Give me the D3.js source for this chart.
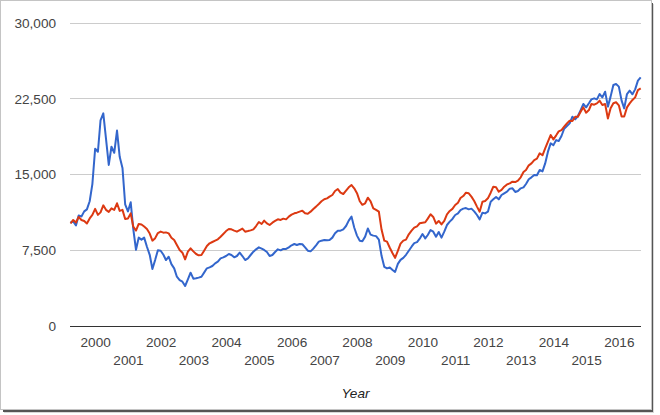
<!DOCTYPE html>
<html>
<head>
<meta charset="utf-8">
<script src="https://cdnjs.cloudflare.com/ajax/libs/d3/7.8.5/d3.min.js"></script>
<style>
  html, body { margin: 0; padding: 0; background: #fff; }
  svg { display: block; font-family: "Liberation Sans", Arial, sans-serif; }
  .tick text { fill: #444; font-size: 13.6px; }
</style>
</head>
<body>
<script>
const width = 660;
const height = 415;

// monthly closes, starting April 1999
const startMonth = new Date(1999, 3, 1);

const blueValues = [
  10200, 10300, 9900, 10900, 10800, 11300, 11500, 12300, 14000, 17500,
  17200, 20300, 21000, 18500, 15900, 17700, 17100, 19300, 16700, 15600,
  12000, 11300, 12200, 9600, 7500, 8700, 8500, 8700, 7800, 7000,
  5600, 6500, 7450, 7400, 7000, 6480, 6810, 6080, 5660, 4830,
  4500, 4340, 3910, 4570, 5230, 4640, 4670, 4740, 4830, 5230,
  5660, 5760, 5890, 6150, 6320, 6650, 6750, 6880, 7080, 6980,
  6750, 6880, 7210, 6880, 6480, 6650, 6980, 7310, 7540, 7740,
  7610, 7480, 7280, 6880, 6980, 7280, 7540, 7440, 7580, 7580,
  7740, 7940, 8070, 7970, 8070, 8040, 7740, 7410, 7340, 7610,
  7940, 8300, 8400, 8470, 8430, 8470, 8700, 9130, 9390, 9390,
  9520, 9850, 10380, 10780, 9700, 8900, 8400, 8350, 8800, 9600,
  9000, 8900, 8850, 8500, 6900, 5800, 5650, 5750, 5500, 5300,
  6100, 6500, 6700, 7000, 7400, 7800, 8150, 8250, 8600, 9060,
  8630, 8960, 9450, 9290, 8790, 9260, 8700, 9290, 9950, 10280,
  10550, 10940, 11100, 11430, 11570, 11630, 11500, 11570, 11300, 10940,
  10510, 11170, 11100, 11270, 12260, 12490, 12720, 12490, 12920, 13090,
  13250, 13550, 13580, 13220, 13320, 13580, 13680, 14010, 14480, 14670,
  14910, 14870, 15400, 15260, 16050, 17210, 18030, 17860, 18360, 18260,
  18760, 19480, 19750, 20010, 20670, 20410, 20740, 21330, 21930, 21600,
  22000, 22390, 22490, 22390, 22920, 22590, 23150, 21670, 22660, 23810,
  23910, 23650, 22260, 21500, 22920, 23250, 22890, 23380, 24240, 24570
];

const redValues = [
  10100, 10450, 10200, 10750, 10450, 10350, 10100, 10600, 10950, 11550,
  10950, 11200, 11900, 11450, 11250, 11600, 11450, 12100, 11350, 11450,
  10550, 10600, 11100, 9800, 9400, 10050, 10000, 9800, 9550, 9100,
  8400, 8650, 9150, 9300, 9190, 9220, 9120, 8690, 8460, 7970,
  7480, 7210, 6550, 7310, 7640, 7340, 7080, 6950, 6980, 7410,
  7870, 8140, 8270, 8400, 8530, 8790, 9060, 9350, 9550, 9520,
  9390, 9290, 9450, 9590, 9290, 9350, 9420, 9520, 9850, 10250,
  10050, 10380, 10110, 9950, 10180, 10350, 10510, 10450, 10580, 10510,
  10780, 10980, 11110, 11170, 11270, 11370, 11110, 11070, 11270, 11540,
  11770, 12030, 12300, 12500, 12590, 12760, 12920, 13320, 13510, 13150,
  13020, 13350, 13680, 13910, 13580, 13100, 12300, 11950, 12100, 12650,
  12300, 11600, 11450, 11270, 9500, 8400, 8300, 7700, 7150, 6700,
  7380, 8100, 8400, 8500, 9030, 9390, 9690, 9820, 10120, 10180,
  10220, 10580, 11010, 10750, 10080, 10350, 10010, 10350, 11010, 11340,
  11550, 11930, 12160, 12620, 12820, 13150, 13090, 12760, 12330, 11770,
  11270, 12260, 12330, 12590, 13150, 13740, 13680, 13250, 13420, 13740,
  13970, 14070, 14240, 14200, 14340, 14670, 15190, 15390, 15860, 16050,
  16380, 16520, 17050, 16850, 17540, 18200, 18860, 18430, 18830, 19220,
  19350, 19680, 20010, 20280, 20240, 20670, 20670, 21170, 21600, 21070,
  21330, 21930, 21860, 21990, 22260, 21830, 21930, 20500, 21500, 22000,
  22100, 21800, 20700, 20700, 21600, 21990, 22330, 22590, 23310, 23480
];

const yTicks = [0, 7500, 15000, 22500, 30000];
const yearTicks = [2000, 2001, 2002, 2003, 2004, 2005, 2006, 2007, 2008,
                   2009, 2010, 2011, 2012, 2013, 2014, 2015, 2016];
const xTitle = "Year";

const months = blueValues.map((_, i) => d3.timeMonth.offset(startMonth, i));

const svg = d3.select("body")
  .append("svg")
  .attr("width", width)
  .attr("height", height);

// picture frame with a drop shadow
svg.append("rect")
  .attr("x", 4).attr("y", 4)
  .attr("width", 650).attr("height", 409)
  .attr("fill", "#d8d8d8");
svg.append("rect")
  .attr("x", 3).attr("y", 3)
  .attr("width", 650).attr("height", 409)
  .attr("fill", "#555");
svg.append("rect")
  .attr("x", 0.5).attr("y", 0.5)
  .attr("width", 651).attr("height", 409)
  .attr("fill", "#fff")
  .attr("stroke", "#c4c4c4");

const x = d3.scaleTime()
  .domain([months[0], months[months.length - 1]])
  .range([70.5, 640.7]);

const y = d3.scaleLinear()
  .domain([0, 30000])
  .range([325.5, 22.5]);

// gridlines + y labels
const yAxis = svg.append("g")
  .attr("transform", "translate(70,0)")
  .call(d3.axisLeft(y)
    .tickValues(yTicks)
    .tickFormat(d3.format(","))
    .tickSize(-571)
    .tickPadding(14));
yAxis.select(".domain").remove();
yAxis.selectAll(".tick line")
  .attr("stroke", d => d === 0 ? "#333" : "#ccc")
  .attr("shape-rendering", "crispEdges");
yAxis.selectAll(".tick text").attr("dy", "0.36em");

// x labels, alternating in two rows
const xAxis = svg.append("g")
  .attr("transform", "translate(0,325.5)")
  .call(d3.axisBottom(x)
    .tickValues(yearTicks.map(yr => new Date(yr, 0, 1)))
    .tickFormat(d3.timeFormat("%Y"))
    .tickSize(0));
xAxis.select(".domain").remove();
xAxis.selectAll(".tick text")
  .attr("dy", 0)
  .attr("y", (d, i) => i % 2 === 0 ? 21 : 39.5);

svg.append("text")
  .attr("x", 355.5)
  .attr("y", 397.5)
  .attr("text-anchor", "middle")
  .attr("font-style", "italic")
  .attr("font-size", "13.6px")
  .attr("fill", "#222")
  .text(xTitle);

const line = d3.line()
  .x((d, i) => x(months[i]))
  .y(d => y(d));

svg.append("path")
  .datum(blueValues)
  .attr("fill", "none")
  .attr("stroke", "#3366cc")
  .attr("stroke-width", 2)
  .attr("stroke-linejoin", "round")
  .attr("d", line);

svg.append("path")
  .datum(redValues)
  .attr("fill", "none")
  .attr("stroke", "#dc3912")
  .attr("stroke-width", 2)
  .attr("stroke-linejoin", "round")
  .attr("d", line);
</script>
</body>
</html>
